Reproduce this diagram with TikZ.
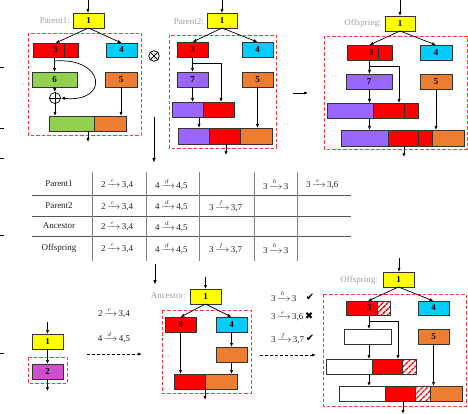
\documentclass[tikz,border=0pt]{standalone}
\usepackage{amsmath}
\usepackage{fontspec}
\setmainfont{Liberation Serif}
\newfontfamily\symf{DejaVu Sans}
\usetikzlibrary{arrows.meta,patterns.meta,calc}
\definecolor{yel}{HTML}{FFFF00}
\definecolor{rd}{HTML}{FF0000}
\definecolor{cyn}{HTML}{00CCFF}
\definecolor{grn}{HTML}{92D050}
\definecolor{org}{HTML}{ED7D31}
\definecolor{pur}{HTML}{9966FF}
\definecolor{mag}{HTML}{D04FD0}
\definecolor{bdr}{HTML}{333333}
\definecolor{rdash}{HTML}{FF3838}
\definecolor{txt}{HTML}{222222}
\definecolor{glab}{HTML}{A0A0A0}
\definecolor{tline}{HTML}{555555}
\newcommand\bxn[7]{\node[blk,#6,minimum width={#4-#2},minimum height={#5-#3}] (#1) at ({(#2+#4)/2},{(#3+#5)/2}) {#7};}
\newcommand\rlt[3]{#1$\,\xrightarrow{\,#2\,\,}\,$#3}
\tikzset{
  blk/.style={draw=bdr, line width=0.9pt, inner sep=0pt, outer sep=0pt, font=\bfseries\fontsize{9}{9}\selectfont, text=black},
  arr/.style={draw=black, line width=0.7pt, -{Latex[length=4pt,width=3.2pt]}},
  rbox/.style={draw=rdash, line width=0.9pt, dash pattern=on 3.5pt off 2pt},
  glb/.style={text=glab, font=\fontsize{9}{9}\selectfont, inner sep=0pt},
  ttxt/.style={font=\fontsize{9}{9}\selectfont, inner sep=0pt, text=txt},
  nlab/.style={font=\bfseries\fontsize{9}{9}\selectfont, inner sep=0pt},
  hat/.style={pattern={Lines[angle=45,distance=4pt,line width=1.5pt]}, pattern color=rd},
  tl/.style={draw=tline, line width=0.6pt},
  sym/.style={font=\symf\fontsize{10}{10}\selectfont, inner sep=0pt, text=black}
}
\begin{document}
\begin{tikzpicture}[x=1pt,y=-1pt]
\useasboundingbox (0,0) rectangle (468,414);
% left edge fragments
\foreach \yy in {67,128,158,235,353} \draw[line width=0.8pt] (0,\yy) -- (3.5,\yy);

% ================= Parent1 =================
\draw[rbox] (28,33) rectangle (141,135);
\bxn{pa1}{73}{13}{104}{28}{fill=yel}{1}
\node[glb, anchor=east] (pa1t) at (70,21) {Parent1:};
\bxn{pa3}{33}{43}{78}{57}{fill=rd}{3}
\draw[draw=bdr, line width=0.9pt] (64,43) -- (64,57);
\bxn{pa4}{106}{43}{137}{57}{fill=cyn}{4}
\bxn{pa6}{32}{72}{77}{87}{fill=grn}{6}
\bxn{pa5}{105}{72}{137}{87}{fill=org}{5}
\node[draw=black, line width=0.7pt, circle, minimum size=11pt, inner sep=0pt] (op) at (55,98) {};
\draw[line width=0.7pt] (op.north) -- (op.south) (op.west) -- (op.east);
\bxn{pab1}{49}{116}{94}{131}{fill=grn}{}
\bxn{pab2}{94}{116}{126}{131}{fill=org}{}
\coordinate (pain) at (88,0);
\draw[arr] (pain) -- (pain |- pa1.north);
\draw[arr] (pa1.south) -- (pa3.north);
\draw[arr] (pa1.south) -- (pa4.north);
\draw[arr] (pa6.north |- pa3.south) -- (pa6.north);
\coordinate (pac) at (54.5,61);
\draw[arr] (pac) .. controls (105,57) and (110,103) .. (op.east);
\draw[arr] (pa6.south) -- (op.north);
\draw[arr] (op.south) -- (op.south |- pab1.north);
\draw[arr] (pa5.south) -- (pa5.south |- pab2.north);
\coordinate (paout) at (88,142);
\draw[arr] (paout |- pab1.south) -- (paout);
% otimes
\node[draw=black, line width=0.8pt, circle, minimum size=10.5pt, inner sep=0pt] (ot) at (154,56) {};
\draw[line width=0.8pt] (ot.north west) -- (ot.south east) (ot.north east) -- (ot.south west);
\coordinate (dn1) at (154,117);
\coordinate (dn2) at (154,163);
\draw[line width=0.9pt, -{Latex[length=5pt,width=3.5pt]}] (dn1) -- (dn2);

% ================= Parent2 =================
\draw[rbox] (169,35) rectangle (276,148);
\bxn{pb1}{207}{13}{237}{28}{fill=yel}{1}
\node[glb, anchor=east] (pb1t) at (204,22) {Parent2:};
\bxn{pb3}{177}{42}{208}{57}{fill=rd}{3}
\bxn{pb4}{242}{42}{273}{57}{fill=cyn}{4}
\bxn{pb7}{177}{72}{208}{87}{fill=pur}{7}
\bxn{pb5}{242}{72}{273}{87}{fill=org}{5}
\bxn{pbm1}{172}{102}{203}{117}{fill=pur}{}
\bxn{pbm2}{203}{102}{234}{117}{fill=rd}{}
\bxn{pbb1}{178}{128}{209}{144}{fill=pur}{}
\bxn{pbb2}{209}{128}{240}{144}{fill=rd}{}
\bxn{pbb3}{240}{128}{272}{144}{fill=org}{}
\coordinate (pbin) at (222,0);
\draw[arr] (pbin) -- (pbin |- pb1.north);
\draw[arr] (pb1.south) -- (pb3.north);
\draw[arr] (pb1.south) -- (pb4.north);
\draw[arr] (pb3.south) -- (pb7.north);
\coordinate (pbj) at (192.5,63);
\coordinate (pbk) at (221,63);
\draw[arr] (pbj) -- (pbk) -- (pbk |- pbm2.north);
\draw[arr] (pb7.south) -- (pb7.south |- pbm1.north);
\coordinate (pbx) at (199,0);
\draw[arr] (pbx |- pbm1.south) -- (pbx |- pbb1.north);
\draw[arr] (pb5.south) -- (pb5.south |- pbb3.north);
\coordinate (pbout) at (226,155);
\draw[arr] (pbout |- pbb2.south) -- (pbout);
\coordinate (ra1) at (293,93);
\coordinate (ra2) at (308,93);
\draw[arr] (ra1) -- (ra2);

% ================= Offspring (top) =================
\draw[rbox] (324,36) rectangle (467,149);
\bxn{pc1}{385}{16}{415}{31}{fill=yel}{1}
\node[glb, anchor=east] (pc1t) at (382,23) {Offspring:};
\bxn{pc3}{347}{45}{392}{60}{fill=rd}{}
\draw[draw=bdr, line width=0.9pt] (378,45) -- (378,60);
\node[nlab] (pc3l) at (371,52.5) {3};
\bxn{pc4}{420}{45}{452}{60}{fill=cyn}{4}
\bxn{pc7}{346}{74}{392}{89}{fill=pur}{7}
\bxn{pc5}{420}{74}{452}{89}{fill=org}{5}
\bxn{pcm1}{327}{103}{373}{118}{fill=pur}{}
\bxn{pcm2}{373}{103}{404}{118}{fill=rd}{}
\bxn{pcm3}{404}{103}{418}{118}{fill=rd}{}
\bxn{pcb1}{341}{130}{388}{146}{fill=pur}{}
\bxn{pcb2}{388}{130}{418}{146}{fill=rd}{}
\bxn{pcb3}{418}{130}{432}{146}{fill=rd}{}
\bxn{pcb4}{432}{130}{464}{146}{fill=org}{}
\coordinate (pcin) at (400,0);
\draw[arr] (pcin) -- (pcin |- pc1.north);
\draw[arr] (pc1.south) -- (pc3.north);
\draw[arr] (pc1.south) -- (pc4.north);
\coordinate (pcx) at (369.5,0);
\draw[arr] (pcx |- pc3.south) -- (pcx |- pc7.north);
\coordinate (pcj) at (369.5,66);
\coordinate (pck) at (399,66);
\draw[arr] (pcj) -- (pck) -- (pck |- pcm2.north);
\draw[arr] (pcx |- pc7.south) -- (pcx |- pcm1.north);
\draw[arr] (pcx |- pcm1.south) -- (pcx |- pcb1.north);
\draw[arr] (pc5.south) -- (pc5.south |- pcb4.north);
\coordinate (pcout) at (404,157);
\draw[arr] (pcout |- pcb2.south) -- (pcout);

% ================= Table =================
\draw[tl] (32,195) -- (351,195);
\draw[tl] (32,216) -- (351,216);
\draw[tl] (32,236) -- (351,236);
\foreach \xx in {92.5,146,199,254,297} \draw[tl, draw=gray] (\xx,172) -- (\xx,261);
\node[ttxt] (r1) at (59,184) {Parent1};
\node[ttxt] (r2) at (59,205.5) {Parent2};
\node[ttxt] (r3) at (59,226) {Ancestor};
\node[ttxt] (r4) at (59,248) {Offspring};
\node[ttxt, anchor=west] (c11) at (101,184) {\rlt{2}{c}{3,4}};
\node[ttxt, anchor=west] (c12) at (155,184) {\rlt{4}{d}{4,5}};
\node[ttxt, anchor=west] (c14) at (263,184) {\rlt{3}{b}{3}};
\node[ttxt, anchor=west] (c15) at (306,184) {\rlt{3}{e}{3,6}};
\node[ttxt, anchor=west] (c21) at (101,205.5) {\rlt{2}{c}{3,4}};
\node[ttxt, anchor=west] (c22) at (155,205.5) {\rlt{4}{d}{4,5}};
\node[ttxt, anchor=west] (c23) at (209,205.5) {\rlt{3}{f}{3,7}};
\node[ttxt, anchor=west] (c31) at (101,226) {\rlt{2}{c}{3,4}};
\node[ttxt, anchor=west] (c32) at (155,226) {\rlt{4}{d}{4,5}};
\node[ttxt, anchor=west] (c41) at (101,248) {\rlt{2}{c}{3,4}};
\node[ttxt, anchor=west] (c42) at (155,248) {\rlt{4}{d}{4,5}};
\node[ttxt, anchor=west] (c43) at (209,248) {\rlt{3}{f}{3,7}};
\node[ttxt, anchor=west] (c44) at (263,248) {\rlt{3}{b}{3}};
\coordinate (dn3) at (155,264);
\coordinate (dn4) at (155,285);
\draw[line width=0.9pt, -{Latex[length=5pt,width=3.5pt]}] (dn3) -- (dn4);

% ================= Bottom left =================
\bxn{q1}{32}{334}{63}{349}{fill=yel}{1}
\draw[rbox] (28,357) rectangle (67,383);
\bxn{q2}{32}{364}{63}{379}{fill=mag}{2}
\coordinate (qin) at (47.5,322);
\draw[arr] (qin) -- (q1.north);
\draw[arr] (q1.south) -- (q2.north);
\coordinate (qout) at (47.5,391);
\draw[arr] (q2.south) -- (qout);
\node[ttxt] (t1) at (114,313) {\rlt{2}{c}{3,4}};
\node[ttxt] (t2) at (114,337) {\rlt{4}{d}{4,5}};
\coordinate (da1) at (87,354);
\coordinate (da2) at (142,354);
\draw[line width=0.8pt, dash pattern=on 3pt off 2pt, -{Latex[length=4pt,width=3.2pt]}] (da1) -- (da2);

% ================= Ancestor =================
\draw[rbox] (162,310) rectangle (251,393);
\bxn{a1}{190}{289}{221}{304}{fill=yel}{1}
\node[glb, anchor=east] (a1t) at (186,296) {Ancestor:};
\bxn{a3}{165}{317}{196}{332}{fill=rd}{3}
\bxn{a4}{216}{317}{247}{332}{fill=cyn}{4}
\bxn{a5}{216}{347}{247}{362}{fill=org}{}
\bxn{ab1}{174}{374}{205}{389}{fill=rd}{}
\bxn{ab2}{205}{374}{237}{389}{fill=org}{}
\coordinate (ain) at (205.5,277);
\draw[arr] (ain) -- (a1.north);
\draw[arr] (a1.south) -- (a3.north);
\draw[arr] (a1.south) -- (a4.north);
\draw[arr] (a3.south) -- (a3.south |- ab1.north);
\draw[arr] (a4.south) -- (a5.north);
\draw[arr] (a5.south) -- (a5.south |- ab2.north);
\coordinate (aout) at (205,400);
\draw[arr] (aout |- ab1.south) -- (aout);
\node[ttxt, anchor=west] (s1) at (271,296) {\rlt{3}{b}{3}};
\node[ttxt, anchor=west] (s2) at (271,316) {\rlt{3}{e}{3,6}};
\node[ttxt, anchor=west] (s3) at (271,338) {\rlt{3}{f}{3,7}};
\node[sym] (k1) at (310,297.5) {✔};
\node[sym] (k2) at (309,316) {✖};
\node[sym] (k3) at (310,338.5) {✔};
\coordinate (db1) at (260,355);
\coordinate (db2) at (316,355);
\draw[line width=0.8pt, dash pattern=on 3pt off 2pt, -{Latex[length=4pt,width=3.2pt]}] (db1) -- (db2);

% ================= Offspring (bottom) =================
\draw[rbox] (323,294) rectangle (466,406);
\bxn{o1}{383}{272}{414}{287}{fill=yel}{1}
\node[glb, anchor=east] (o1t) at (378,280) {Offspring:};
\bxn{o3a}{346}{301}{377}{315}{fill=rd}{}
\bxn{o3b}{377}{301}{390}{315}{hat}{}
\node[nlab] (o3l) at (369,308) {3};
\bxn{o4}{418}{301}{449}{315}{fill=cyn}{4}
\bxn{o7}{344}{329}{391}{344}{fill=white}{}
\bxn{o5}{418}{329}{449}{344}{fill=org}{5}
\bxn{om1}{326}{359}{372}{374}{fill=white}{}
\bxn{om2}{372}{359}{402}{374}{fill=rd}{}
\bxn{om3}{402}{359}{416}{374}{hat}{}
\bxn{ob1}{339}{386}{385}{401}{fill=white}{}
\bxn{ob2}{385}{386}{415}{401}{fill=rd}{}
\bxn{ob3}{415}{386}{430}{401}{hat}{}
\bxn{ob4}{430}{386}{462}{401}{fill=org}{}
\coordinate (oin) at (399,258);
\draw[arr] (oin) -- (oin |- o1.north);
\coordinate (o3top) at ($(o3a.north west)!0.5!(o3b.north east)$);
\draw[arr] (o1.south) -- (o3top);
\draw[arr] (o1.south) -- (o4.north);
\coordinate (ox) at (369,0);
\draw[arr] (ox |- o3a.south) -- (ox |- o7.north);
\coordinate (oj) at (369,321);
\coordinate (ok) at (398,321);
\draw[arr] (oj) -- (ok) -- (ok |- om2.north);
\draw[arr] (ox |- o7.south) -- (ox |- om1.north);
\draw[arr] (ox |- om1.south) -- (ox |- ob1.north);
\draw[arr] (o5.south) -- (o5.south |- ob4.north);
\coordinate (oout) at (403,414);
\draw[arr] (oout |- ob2.south) -- (oout);
\end{tikzpicture}
\end{document}
